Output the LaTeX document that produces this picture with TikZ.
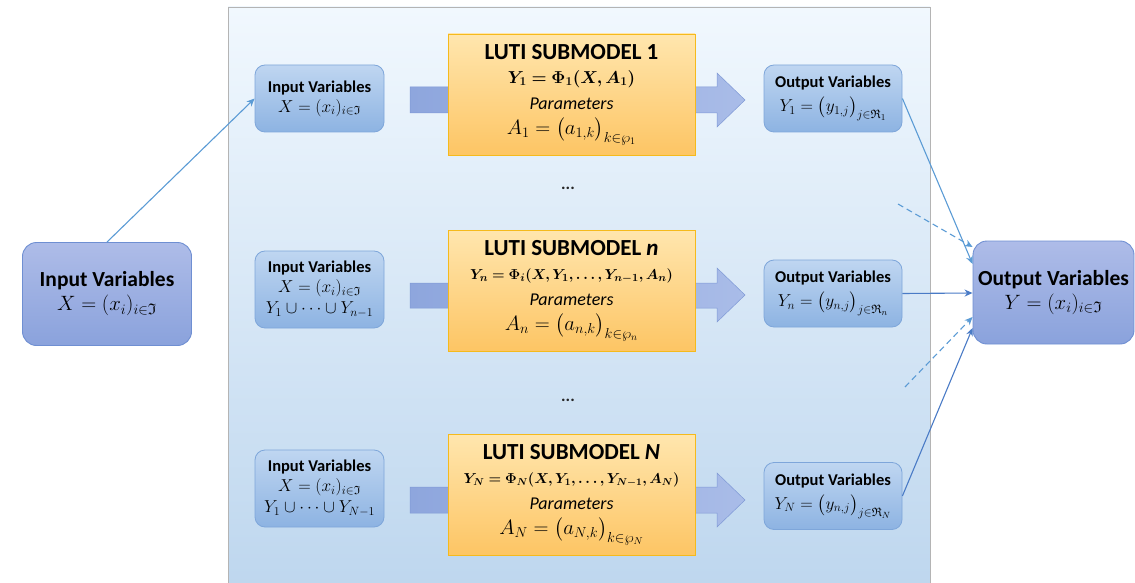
\documentclass[tikz,border=0pt]{standalone}
\usepackage{amsmath,amssymb,bm}
\usepackage{fontspec}
\setmainfont{Carlito}
\usetikzlibrary{arrows.meta}
\definecolor{panelTop}{HTML}{F1F8FE}
\definecolor{panelBot}{HTML}{BDD6EE}
\definecolor{panelLine}{HTML}{B4B4B4}
\definecolor{smallTop}{HTML}{BFD6F1}
\definecolor{smallBot}{HTML}{8DB3E2}
\definecolor{smallLine}{HTML}{7EA6DA}
\definecolor{bigTop}{HTML}{AEBCE8}
\definecolor{bigBot}{HTML}{8AA2DC}
\definecolor{bigLine}{HTML}{6F8FD2}
\definecolor{yelTop}{HTML}{FFE6AE}
\definecolor{yelBot}{HTML}{FDC564}
\definecolor{yelLine}{HTML}{F5BA1C}
\definecolor{arrLeft}{HTML}{8EA6DD}
\definecolor{arrRight}{HTML}{A9BCE8}
\definecolor{arrLine}{HTML}{7F99D6}
\definecolor{conn}{HTML}{4A7BC6}
\definecolor{connLight}{HTML}{5B9BD5}
\tikzset{
  smallbox/.style={draw=smallLine, line width=0.8pt, rounded corners=10pt, top color=smallTop, bottom color=smallBot, align=center, inner sep=0pt, minimum width=129pt, text=black, font=\fontsize{16}{20}\selectfont},
  outbox/.style={smallbox, minimum width=138pt},
  bigbox/.style={draw=bigLine, line width=0.9pt, rounded corners=14pt, top color=bigTop, bottom color=bigBot, align=center, inner sep=0pt, text=black, font=\fontsize{20}{24}\selectfont},
  yelbox/.style={draw=yelLine, line width=0.8pt, top color=yelTop, bottom color=yelBot, align=center, inner sep=0pt, minimum width=247pt, minimum height=121pt, text=black, font=\fontsize{18}{24}\selectfont},
  blockarrow/.style={draw=arrLine, line width=0.5pt, left color=arrLeft, right color=arrRight},
  connector/.style={draw=conn, line width=1.1pt, -{Stealth[length=8pt,width=7pt]}},
  dashconn/.style={connector, draw=connLight, dashed, dash pattern=on 6pt off 4pt},
  dotsnode/.style={font=\bfseries\fontsize{17}{17}\selectfont, text=black!85}
}
\newcommand{\stitle}{\bfseries\fontsize{16.5}{20}\selectfont}
\newcommand{\sform}{\fontsize{17}{20}\selectfont}
\newcommand{\oform}{\fontsize{17.5}{20}\selectfont}
\newcommand{\ytitle}{\bfseries\fontsize{23}{24}\selectfont}
\newcommand{\yform}{\fontsize{17.5}{24}\selectfont}
\newcommand{\yformb}{\fontsize{15.5}{24}\selectfont}
\newcommand{\yformc}{\fontsize{14.5}{24}\selectfont}
\newcommand{\ypar}{\itshape\fontsize{18}{24}\selectfont}
\newcommand{\yparam}{\fontsize{19.5}{24}\selectfont}
\newcommand{\btitle}{\bfseries\fontsize{21.5}{24}\selectfont}
\newcommand{\bform}{\fontsize{22}{24}\selectfont}
\begin{document}
\begin{tikzpicture}[x=1pt,y=-1pt]
\useasboundingbox (0,0) rectangle (1135,583);
% panel
\node[draw=panelLine, line width=0.8pt, top color=panelTop, bottom color=panelBot, minimum width=702pt, minimum height=590pt, inner sep=0pt] (panel) at (579,302) {};
% block arrows (behind yellow boxes)
\path[blockarrow] (410,87) -- (717,87) -- (717,73) -- (745,100) -- (717,127) -- (717,113) -- (410,113) -- cycle;
\path[blockarrow] (410,283) -- (717,283) -- (717,268) -- (745,295) -- (717,322) -- (717,308) -- (410,308) -- cycle;
\path[blockarrow] (410,487) -- (717,487) -- (717,473) -- (745,500) -- (717,527) -- (717,513) -- (410,513) -- cycle;
% yellow boxes
\node[yelbox] (sub1) at (571.5,94.5) {{\ytitle LUTI SUBMODEL 1}\\
  {\yform $\boldsymbol{Y_1=\Phi_1(X,A_1)}$}\\[2pt]
  {\ypar Parameters}\\[1pt]
  {\yparam $A_1=\bigl(a_{1,k}\bigr)_{k\in\wp_1}$}};
\node[yelbox] (subn) at (571.5,290.5) {{\ytitle LUTI SUBMODEL \textit{n}}\\
  {\yformb $\boldsymbol{Y_n=\Phi_i(X,Y_1,\ldots,Y_{n-1},A_n)}$}\\[2pt]
  {\ypar Parameters}\\[1pt]
  {\yparam $A_n=\bigl(a_{n,k}\bigr)_{k\in\wp_n}$}};
\node[yelbox] (subN) at (571.5,494.5) {{\ytitle LUTI SUBMODEL \textit{N}}\\
  {\yformc $\boldsymbol{Y_N=\Phi_N(X,Y_1,\ldots,Y_{N-1},A_N)}$}\\[2pt]
  {\ypar Parameters}\\[1pt]
  {\yparam $A_N=\bigl(a_{N,k}\bigr)_{k\in\wp_N}$}};
% dots
\node[dotsnode] (dots1) at (568,188) {...};
\node[dotsnode] (dots2) at (568,400) {...};
% small input boxes
\node[smallbox, minimum height=67pt] (in1) at (319.5,98.5) {{\stitle Input Variables}\\[0pt]
  {\sform $X=(x_i)_{i\in\mathfrak{I}}$}};
\node[smallbox, minimum height=77pt] (in2) at (319.5,289.5) {{\stitle Input Variables}\\[0pt]
  {\sform $X=(x_i)_{i\in\mathfrak{I}}$}\\[1pt]
  {\sform $Y_1\cup\cdots\cup Y_{n-1}$}};
\node[smallbox, minimum height=77pt] (in3) at (319.5,488.5) {{\stitle Input Variables}\\[0pt]
  {\sform $X=(x_i)_{i\in\mathfrak{I}}$}\\[1pt]
  {\sform $Y_1\cup\cdots\cup Y_{N-1}$}};
% small output boxes
\node[outbox, minimum height=67pt] (out1) at (833,98.5) {{\stitle Output Variables}\\[4pt]
  {\oform $Y_1=\bigl(y_{1,j}\bigr)_{j\in\mathfrak{R}_1}$}};
\node[outbox, minimum height=67pt] (out2) at (833,293.5) {{\stitle Output Variables}\\[4pt]
  {\oform $Y_n=\bigl(y_{n,j}\bigr)_{j\in\mathfrak{R}_n}$}};
\node[outbox, minimum height=67pt] (out3) at (833,496) {{\stitle Output Variables}\\[4pt]
  {\oform $Y_N=\bigl(y_{n,j}\bigr)_{j\in\mathfrak{R}_N}$}};
% big boxes
\node[bigbox, minimum width=169pt, minimum height=103pt] (bigin) at (107,294) {{\btitle Input Variables}\\
  {\bform $X=(x_i)_{i\in\mathfrak{I}}$}};
\node[bigbox, minimum width=161pt, minimum height=103pt] (bigout) at (1053.5,292.5) {{\btitle Output Variables}\\
  {\bform $Y=(x_i)_{i\in\mathfrak{I}}$}};
% connectors
\coordinate (d1) at (898,204);
\coordinate (d2) at (905,387);
\draw[connector, draw=connLight] (bigin.north) -- (in1.west);
\draw[connector, draw=connLight] (out1.east) -- (bigout.west |- 0,264);
\draw[dashconn] (d1) -- (bigout.west |- 0,247);
\draw[connector] (out2.east) -- (bigout.west |- 0,293);
\draw[dashconn] (d2) -- (bigout.west |- 0,317);
\draw[connector] (out3.east) -- (bigout.west |- 0,328);
\end{tikzpicture}
\end{document}
